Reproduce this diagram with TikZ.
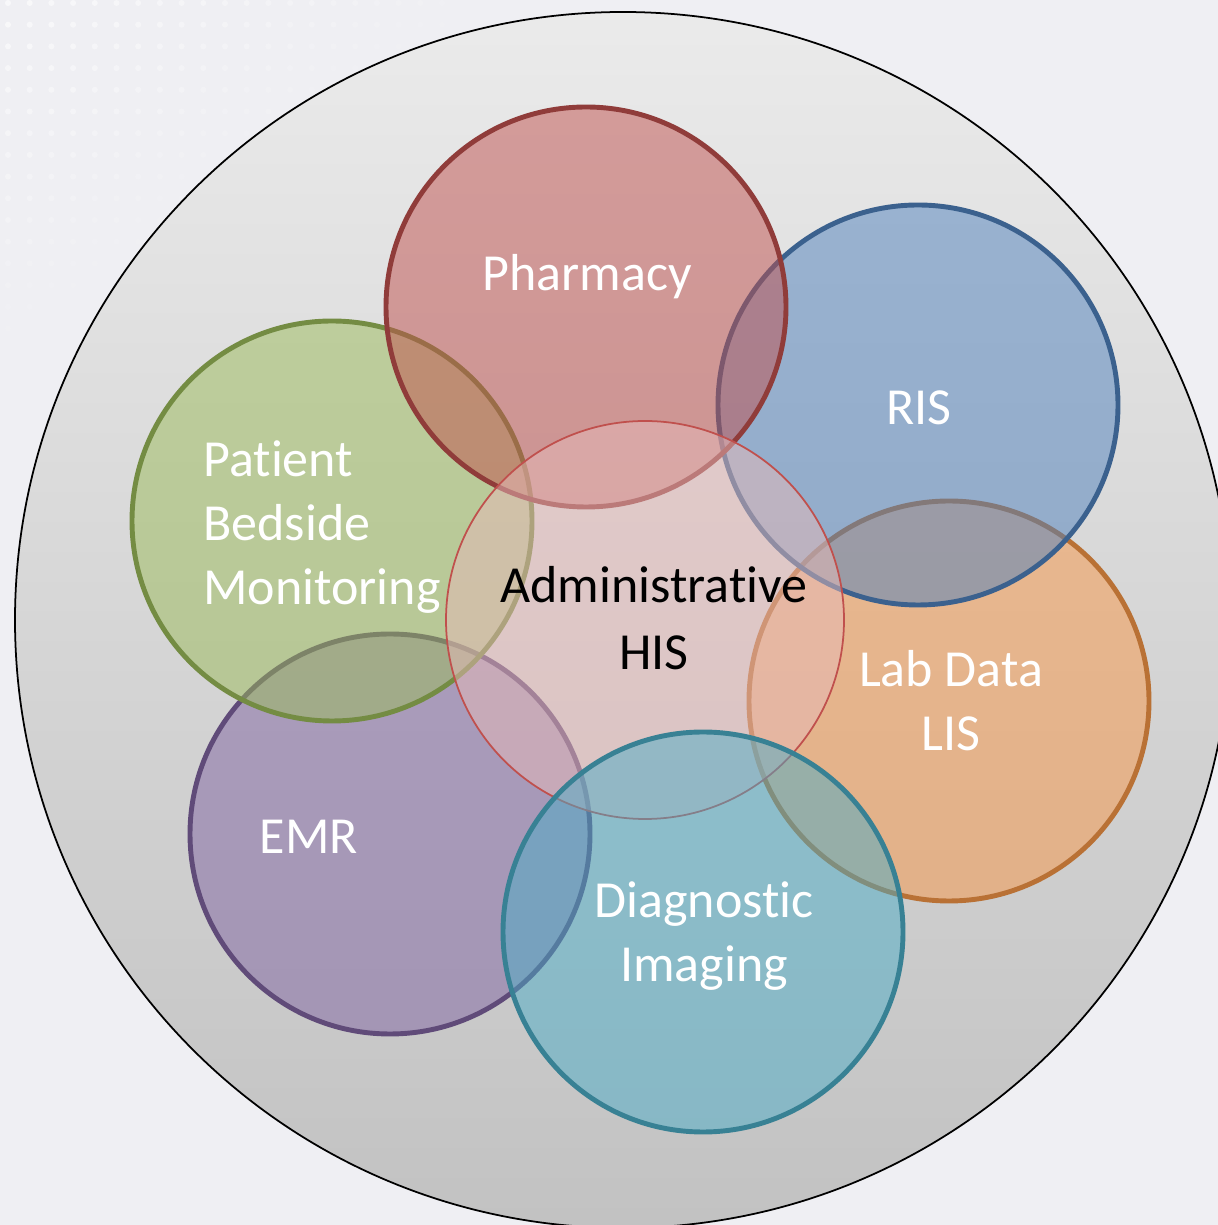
\documentclass[tikz,border=0pt]{standalone}
\usepackage{fontspec}
\setmainfont{Carlito}[Ligatures=CommonOff]
\usepackage{xcolor}
\usepackage{tikz}
\definecolor{paper}{RGB}{239,239,243}
\definecolor{accblue}{HTML}{4F81BD}
\definecolor{accred}{HTML}{C0504D}
\definecolor{accgreen}{HTML}{9BBB59}
\definecolor{accpurple}{HTML}{8064A2}
\definecolor{accaqua}{HTML}{4BACC6}
\definecolor{accorange}{HTML}{F79646}
\tikzstyle{hospnode}=[shape=circle, draw=black, line width=1pt, minimum size=24.32cm, inner sep=0pt, top color=black!8, bottom color=black!24]
\tikzstyle{sysnode}=[shape=circle, line width=2.8pt, minimum size=8cm, inner sep=0pt, fill opacity=0.5, draw opacity=1]
\tikzstyle{adminnode}=[shape=circle, draw=accred, line width=1pt, minimum size=7.96cm, inner sep=0pt, fill=accred!40!white, fill opacity=0.5, draw opacity=1]
\tikzstyle{systext}=[text=white, inner sep=0pt, align=center, font=\fontsize{29.6}{36.5}\selectfont]

\begin{document}
\begin{tikzpicture}
\useasboundingbox (0,0) rectangle (24.36,24.5);
\clip (0,0) rectangle (24.36,24.5);
\fill[paper] (0,0) rectangle (24.36,24.5);
% faint dot grid in the corner
\foreach \i in {0,...,20}{
  \foreach \j in {0,...,15}{
    \pgfmathsetmacro{\dotop}{max(0,0.6-0.025*\i-0.035*\j)}
    \fill[white, opacity=\dotop] (0.16+0.434*\i, 24.44-0.434*\j) circle (0.06);
  }
}

\node [hospnode] (hospital) at (12.46,12.10) {};

\node [sysnode, draw=accpurple!75!black, fill=accpurple] (emr) at (7.80,7.82) {};
\node [sysnode, draw=accgreen!75!black, fill=accgreen] (bedside) at (6.64,14.08) {};
\node [sysnode, draw=accorange!75!black, fill=accorange] (lab) at (18.98,10.48) {};
\node [sysnode, draw=accblue!75!black, fill=accblue] (ris) at (18.36,16.40) {};
\node [sysnode, draw=accred!75!black, fill=accred] (pharmacy) at (11.72,18.36) {};
\node [adminnode] (admin) at (12.90,12.10) {};
\node [sysnode, draw=accaqua!75!black, fill=accaqua] (imaging) at (14.06,5.86) {};

\node [systext] (pharmacytext) at (11.74,18.96) {Pharmacy};
\node [systext] (ristext) at (18.38,16.34) {RIS};
\node [systext, align=left, anchor=west] (bedsidetext) at (4.06,13.96) {Patient\\Bedside\\Monitoring};
\node [systext, text=black, font=\fontsize{29.6}{38}\selectfont] (admintext) at (13.08,12.13) {Administrative\\HIS};
\node [systext] (labtext) at (19.02,10.49) {Lab Data\\LIS};
\node [systext] (emrtext) at (6.18,7.77) {EMR};
\node [systext] (imagingtext) at (14.08,5.77) {Diagnostic\\Imaging};
\end{tikzpicture}
\end{document}
